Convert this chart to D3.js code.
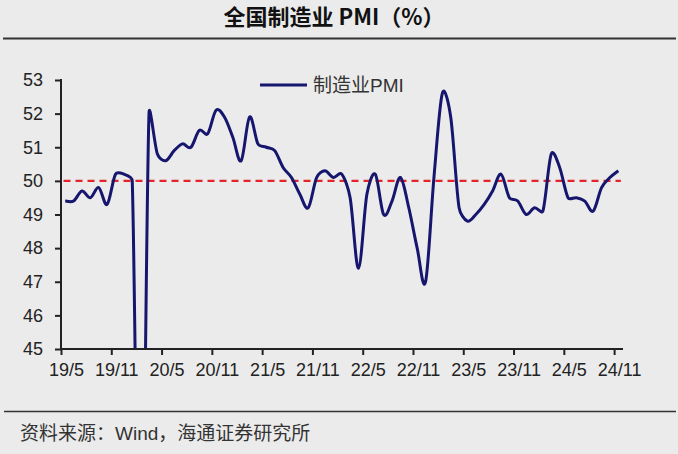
<!DOCTYPE html>
<html><head><meta charset="utf-8">
<script src="https://cdn.jsdelivr.net/npm/d3@7"></script>
<style>
html,body{margin:0;padding:0;background:#ebebeb;}
svg{display:block;}
</style></head>
<body>
<svg id="c" width="678" height="454"></svg>
<script>
const title = "全国制造业 PMI（%）";
const seriesName = "制造业PMI";
const source = "资料来源：Wind，海通证券研究所";
const tickLabels = ["19/5","19/11","20/5","20/11","21/5","21/11","22/5","22/11","23/5","23/11","24/5","24/11"];
const yTicks = [45,46,47,48,49,50,51,52,53];
const months = d3.range(67); // 2019-05 .. 2024-11
const pmi = [
  49.4,49.4,49.7,49.5,49.8,49.3,50.2,50.2,
  50.0,35.7,52.0,50.8,50.6,50.9,51.1,51.0,51.5,51.4,52.1,51.9,
  51.3,50.6,51.9,51.1,51.0,50.9,50.4,50.1,49.6,49.2,50.1,50.3,
  50.1,50.2,49.5,47.4,49.6,50.2,49.0,49.4,50.1,49.2,48.0,47.0,
  50.1,52.6,51.9,49.2,48.8,49.0,49.3,49.7,50.2,49.5,49.4,49.0,
  49.2,49.1,50.8,50.4,49.5,49.5,49.4,49.1,49.8,50.1,50.3
];
const refLine = 50;

// Excel-like smoothing: Catmull-Rom Bezier with control arms limited by segment length
function smoothCurve(context) {
  let pts = [];
  return {
    areaStart(){}, areaEnd(){},
    lineStart(){ pts = []; },
    point(x, y){ pts.push([+x, +y]); },
    lineEnd(){
      if (!pts.length) return;
      context.moveTo(pts[0][0], pts[0][1]);
      const lim = 0.4;
      for (let i = 0; i < pts.length - 1; i++) {
        const A = pts[i-1] || pts[i], B = pts[i], C = pts[i+1], D = pts[i+2] || pts[i+1];
        const seg = Math.hypot(C[0]-B[0], C[1]-B[1]);
        let t1 = [(C[0]-A[0])/6, (C[1]-A[1])/6];
        let t2 = [(D[0]-B[0])/6, (D[1]-B[1])/6];
        const l1 = Math.hypot(t1[0], t1[1]), l2 = Math.hypot(t2[0], t2[1]);
        if (l1 > lim*seg) { t1 = [t1[0]*lim*seg/l1, t1[1]*lim*seg/l1]; }
        if (l2 > lim*seg) { t2 = [t2[0]*lim*seg/l2, t2[1]*lim*seg/l2]; }
        context.bezierCurveTo(B[0]+t1[0], B[1]+t1[1], C[0]-t2[0], C[1]-t2[1], C[0], C[1]);
      }
    }
  };
}

const svg = d3.select("#c");
const x = d3.scaleLinear().domain([0,67]).range([61,622.5]);
const y = d3.scaleLinear().domain([45,53]).range([349,80]);

// title
svg.append("text").attr("x",334).attr("y",25).attr("text-anchor","middle")
  .attr("font-family","'Noto Sans CJK SC', sans-serif").attr("font-weight","bold")
  .attr("font-size",22).attr("fill","#111").text(title);
svg.append("line").attr("x1",3).attr("x2",676).attr("y1",38.5).attr("y2",38.5)
  .attr("stroke","#333").attr("stroke-width",2);

// clip
svg.append("clipPath").attr("id","clip").append("rect")
  .attr("x",61).attr("y",70).attr("width",570).attr("height",279);

// reference line
svg.append("line").attr("x1",x(0.3)).attr("x2",x(66.8)).attr("y1",y(refLine)).attr("y2",y(refLine))
  .attr("stroke","#e3242b").attr("stroke-width",2.2).attr("stroke-dasharray","7,5");

// series line
const line = d3.line().x((d,i)=>x(months[i]+0.5)).y(d=>y(d)).curve(smoothCurve);
svg.append("path").datum(pmi).attr("d",line).attr("clip-path","url(#clip)")
  .attr("fill","none").attr("stroke","#16166e").attr("stroke-width",3).attr("stroke-linejoin","round");

// y axis
const yAxis = d3.axisLeft(y).tickValues(yTicks).tickSize(6).tickFormat(d3.format("d"));
const gy = svg.append("g").attr("transform","translate(61,0)").call(yAxis);
gy.select(".domain").attr("stroke","#222").attr("stroke-width",2).attr("d","M0,79V350");
gy.selectAll(".tick line").attr("stroke","#222").attr("stroke-width",2);
gy.selectAll(".tick text").attr("x",-18).attr("font-size",18).attr("fill","#222")
  .attr("font-family","'Liberation Sans', Arial, sans-serif");

// x axis
const xAxis = d3.axisBottom(x).tickValues(d3.range(0,67,6)).tickSize(6).tickFormat((d,i)=>tickLabels[i]);
const gx = svg.append("g").attr("transform","translate(0,349)").call(xAxis);
gx.select(".domain").attr("stroke","#222").attr("stroke-width",2).attr("d","M60,0H623");
gx.selectAll(".tick line").attr("stroke","#222").attr("stroke-width",2);
gx.selectAll(".tick text").attr("dx",5).attr("y",14).attr("font-size",18).attr("fill","#222")
  .attr("font-family","'Liberation Sans', Arial, sans-serif");

// legend
svg.append("line").attr("x1",260).attr("x2",307).attr("y1",85).attr("y2",85)
  .attr("stroke","#16166e").attr("stroke-width",3);
svg.append("text").attr("x",313).attr("y",92).attr("font-size",19).attr("fill","#333")
  .attr("font-family","'Liberation Sans','Noto Sans CJK SC', sans-serif").text(seriesName);

// footer
svg.append("line").attr("x1",4).attr("x2",676).attr("y1",411.5).attr("y2",411.5)
  .attr("stroke","#333").attr("stroke-width",1.5);
svg.append("text").attr("x",20).attr("y",440).attr("font-size",19).attr("fill","#333")
  .attr("font-family","'Liberation Sans','Noto Sans CJK SC', sans-serif").text(source);
</script>
</body></html>
